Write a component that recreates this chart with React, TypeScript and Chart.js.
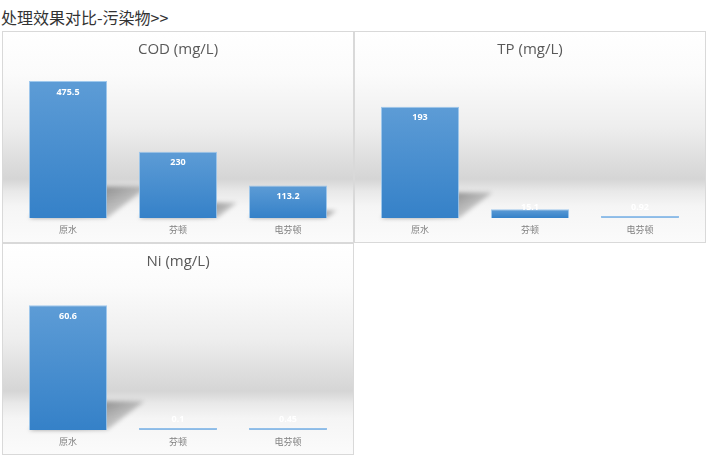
import React, { useEffect, useRef } from "react";
import { Chart, registerables } from "chart.js";

Chart.register(...registerables);

const pageTitle = "处理效果对比-污染物>>";
const categories = ["原水", "芬顿", "电芬顿"];
const codValues = [475.5, 230, 113.2];
const tpValues = [193, 15.1, 0.92];
const niValues = [60.6, 0.1, 0.45];
const chartTitles = ["COD (mg/L)", "TP (mg/L)", "Ni (mg/L)"];
const axisMax = [500, 250, 70];

const FONT = "'Open Sans', 'Noto Sans CJK SC', sans-serif";

const shadowPlugin = {
  id: "barShadow",
  beforeDatasetsDraw(chart: any) {
    const ctx = chart.ctx;
    const meta = chart.getDatasetMeta(0);
    ctx.save();
    ctx.filter = "blur(2px)";
    meta.data.forEach((bar: any) => {
      const h = bar.base - bar.y;
      if (!isFinite(h) || h < 10) return;
      const left = bar.x - bar.width / 2;
      const right = bar.x + bar.width / 2;
      const kh = h * 0.23;
      const s = kh * 1.3;
      const g = ctx.createLinearGradient(right, bar.base - kh, right + s * 0.6, bar.base);
      g.addColorStop(0, "rgba(0,0,0,0.36)");
      g.addColorStop(1, "rgba(0,0,0,0.10)");
      ctx.fillStyle = g;
      ctx.beginPath();
      ctx.moveTo(left, bar.base);
      ctx.lineTo(right, bar.base);
      ctx.lineTo(right + s, bar.base - kh);
      ctx.lineTo(left + s, bar.base - kh);
      ctx.closePath();
      ctx.fill();
    });
    ctx.restore();
  },
};

const labelPlugin = {
  id: "barLabels",
  afterDatasetsDraw(chart: any) {
    const ctx = chart.ctx;
    const meta = chart.getDatasetMeta(0);
    const values = chart.data.datasets[0].data;
    ctx.save();
    ctx.fillStyle = "#ffffff";
    ctx.font = `bold 9px ${FONT}`;
    ctx.textAlign = "center";
    ctx.textBaseline = "middle";
    meta.data.forEach((bar: any, i: number) => {
      const y = Math.min(bar.y + 11, bar.base - 11);
      ctx.fillText(String(values[i]), bar.x, y);
    });
    ctx.restore();
  },
};

function Panel({ title, values, max, left, top }: { title: string; values: number[]; max: number; left: number; top: number }) {
  const ref = useRef<HTMLCanvasElement | null>(null);
  useEffect(() => {
    if (!ref.current) return;
    const chart = new Chart(ref.current, {
      type: "bar",
      data: {
        labels: categories,
        datasets: [
          {
            data: values,
            backgroundColor: (c: any) => {
              const ch = c.chart;
              const ys = ch.scales && ch.scales.y;
              if (!ys || c.type !== "data") return "#4a8fd0";
              const v = c.raw as number;
              const t = ys.getPixelForValue(v);
              const b = ys.getPixelForValue(0);
              if (!isFinite(t) || !isFinite(b)) return "#4a8fd0";
              if (b - t < 3) return "#8dbbe6";
              const g = ch.ctx.createLinearGradient(0, t, 0, b);
              g.addColorStop(0, "#5d9cd6");
              g.addColorStop(1, "#3581c8");
              return g;
            },
            borderColor: (c: any) => {
              const ch = c.chart;
              const ys = ch.scales && ch.scales.y;
              if (ys && c.type === "data") {
                const h = ys.getPixelForValue(0) - ys.getPixelForValue(c.raw as number);
                if (isFinite(h) && h < 3) return "#93c0ea";
              }
              return "rgba(150,195,235,0.9)";
            },
            borderWidth: 1,
            barPercentage: 0.71,
            categoryPercentage: 1,
            minBarLength: 2,
          },
        ],
      },
      options: {
        responsive: false,
        animation: false,
        layout: { padding: { left: 10, right: 10, top: 0, bottom: 6 } },
        plugins: {
          legend: { display: false },
          tooltip: { enabled: false },
          title: {
            display: true,
            text: title,
            color: "#595959",
            font: { family: FONT, size: 15, weight: "normal" },
            padding: { top: 9, bottom: 15 },
          },
        },
        scales: {
          y: { display: false, min: 0, max },
          x: {
            grid: { display: false, drawTicks: false },
            border: { display: false },
            ticks: { color: "#7f7f7f", font: { family: FONT, size: 9 }, padding: 7 },
            afterFit: (scale: any) => {
              scale.height = 18;
            },
          },
        },
      },
      plugins: [shadowPlugin, labelPlugin],
    } as any);
    return () => chart.destroy();
  }, [title, values, max]);

  return (
    <div
      style={{
        position: "absolute",
        left,
        top,
        width: 352,
        height: 212,
        boxSizing: "border-box",
        border: "1px solid #d9d9d9",
        background:
          "linear-gradient(to bottom, #ffffff 0%, #fbfbfb 20%, #eeeeee 45%, #d5d5d5 70%, #e9e9e9 76%, #f5f5f5 83%, #fbfbfb 100%)",
      }}
    >
      <canvas ref={ref} width={350} height={210} style={{ display: "block" }} />
    </div>
  );
}

export default function App() {
  return (
    <div style={{ position: "absolute", left: 0, top: 0, width: 711, height: 466, background: "#fff" }}>
      <div
        style={{
          position: "absolute",
          left: 1,
          top: 7,
          fontFamily: "'Noto Sans CJK SC', sans-serif",
          fontSize: 16,
          lineHeight: "20px",
          color: "#333",
          whiteSpace: "nowrap",
        }}
      >
        {pageTitle}
      </div>
      <Panel title={chartTitles[0]} values={codValues} max={axisMax[0]} left={2} top={31} />
      <Panel title={chartTitles[1]} values={tpValues} max={axisMax[1]} left={354} top={31} />
      <Panel title={chartTitles[2]} values={niValues} max={axisMax[2]} left={2} top={243} />
    </div>
  );
}
